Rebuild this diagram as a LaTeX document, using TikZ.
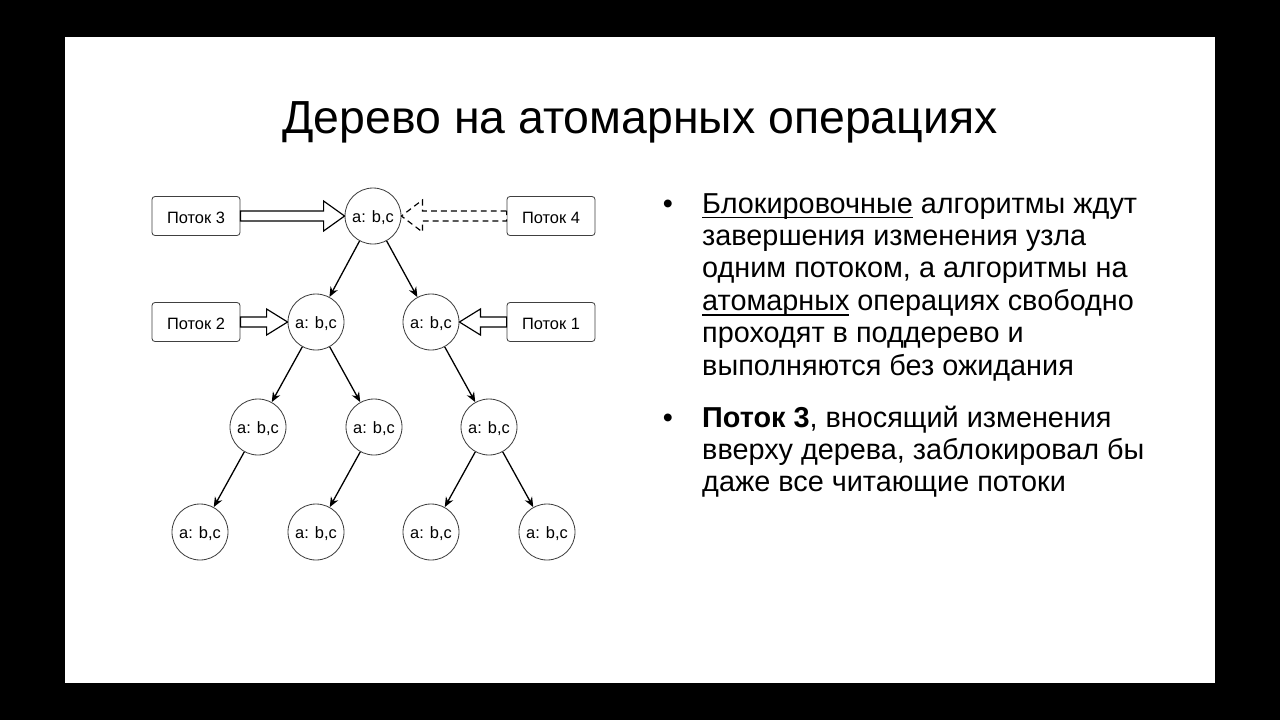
\documentclass[tikz,border=0pt]{standalone}
\usepackage{fontspec}
\setmainfont{Liberation Sans}
\usetikzlibrary{calc,arrows.meta}
\newcommand{\MyUnder}[1]{\setbox0\hbox{#1}\rlap{\rule[-0.19em]{\wd0}{0.055em}}\box0\relax}
\newcommand{\BlkArrow}[5][]{%
  \draw[blk,#1] ($(#2)+(0,-5)$) -- ($(#3)+(#4,-5)$) -- ($(#3)+(#4,-#5)$) -- (#3)
    -- ($(#3)+(#4,#5)$) -- ($(#3)+(#4,5)$) -- ($(#2)+(0,5)$) -- cycle;}
\tikzset{
  tnode/.style={circle,draw=black!75,line width=0.7pt,fill=white,inner sep=0pt,
    minimum size=1.68cm,text height=11.5pt,text depth=0pt,font=\fontsize{14}{16}\selectfont},
  tbox/.style={rectangle,rounded corners=0.09cm,draw=black!75,line width=0.7pt,
    minimum width=2.64cm,minimum height=1.17cm,text height=12pt,text depth=0pt,
    font=\fontsize{14}{16}\selectfont},
  edge/.style={line width=1.1pt,-{Stealth[length=8.5pt,width=7pt]}},
  blk/.style={draw=black,line width=1pt,fill=white,line join=miter},
  txt/.style={anchor=base west,inner sep=0pt,font=\fontsize{24.6}{29}\selectfont},
  bul/.style={anchor=base,inner sep=0pt,font=\fontsize{24.6}{29}\selectfont}
}
\begin{document}
\begin{tikzpicture}[x=0.03cm,y=-0.03cm]
\fill[black] (0,0) rectangle (1280,720);
\fill[white] (65,37) rectangle (1215,683);
\useasboundingbox (0,0) rectangle (1280,720);

\node[anchor=base,inner sep=0pt,font=\fontsize{39.6}{46}\selectfont] (title) at (640,133) {Дерево на атомарных операциях};

% tree
\node[tnode] (r) at (373,216) {a: b,c};
\node[tnode] (n2a) at (316,322) {a: b,c};
\node[tnode] (n2b) at (431,322) {a: b,c};
\node[tnode] (n3a) at (258,427) {a: b,c};
\node[tnode] (n3b) at (374,427) {a: b,c};
\node[tnode] (n3c) at (489,427) {a: b,c};
\node[tnode] (n4a) at (200,532) {a: b,c};
\node[tnode] (n4b) at (316,532) {a: b,c};
\node[tnode] (n4c) at (431,532) {a: b,c};
\node[tnode] (n4d) at (547,532) {a: b,c};

\draw[edge] (r) -- (n2a);
\draw[edge] (r) -- (n2b);
\draw[edge] (n2a) -- (n3a);
\draw[edge] (n2a) -- (n3b);
\draw[edge] (n2b) -- (n3c);
\draw[edge] (n3a) -- (n4a);
\draw[edge] (n3b) -- (n4b);
\draw[edge] (n3c) -- (n4c);
\draw[edge] (n3c) -- (n4d);

% threads
\node[tbox] (p3) at (196,216) {Поток 3};
\node[tbox] (p4) at (551,216) {Поток 4};
\node[tbox] (p2) at (196,322) {Поток 2};
\node[tbox] (p1) at (551,322) {Поток 1};

\BlkArrow{p3.east}{r.west}{-21}{15}
\BlkArrow[dash pattern=on 5pt off 3.5pt,line width=1pt]{p4.west}{r.east}{21}{16}
\BlkArrow{p2.east}{n2a.west}{-21}{13}
\BlkArrow{p1.west}{n2b.east}{21}{13}

% bullets
\node[bul] (d1) at (668,213) {•};
\node[txt] (l1) at (702,213) {\MyUnder{Блокировочные} алгоритмы ждут};
\node[txt] (l2) at (702,245.4) {завершения изменения узла};
\node[txt] (l3) at (702,277.8) {одним потоком, а алгоритмы на};
\node[txt] (l4) at (702,310.2) {\MyUnder{атомарных} операциях свободно};
\node[txt] (l5) at (702,342.6) {проходят в поддерево и};
\node[txt] (l6) at (702,375) {выполняются без ожидания};

\node[bul] (d2) at (668,427) {•};
\node[txt] (m1) at (702,427) {\textbf{Поток 3}, вносящий изменения};
\node[txt] (m2) at (702,459.4) {вверху дерева, заблокировал бы};
\node[txt] (m3) at (702,491.8) {даже все читающие потоки};
\end{tikzpicture}
\end{document}
